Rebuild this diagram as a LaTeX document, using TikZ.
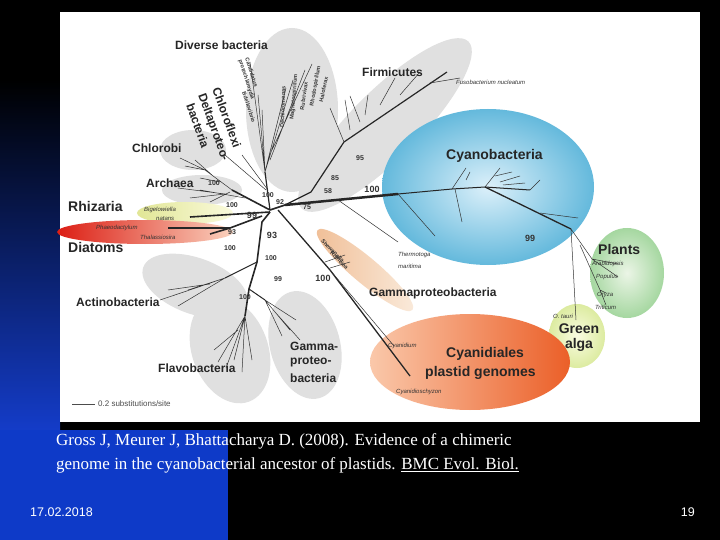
\documentclass[tikz,border=0pt]{standalone}
\usepackage{fontspec}
\setmainfont{Liberation Serif}
\newfontfamily\arial{Liberation Sans}
\definecolor{slideblue}{RGB}{14,58,200}
\definecolor{slideblueb}{RGB}{20,60,200}
\definecolor{rhizA}{RGB}{225,230,150}
\definecolor{rhizB}{RGB}{250,250,220}
\definecolor{diaA}{RGB}{220,30,20}
\definecolor{diaB}{RGB}{250,210,190}
\definecolor{cyA}{RGB}{220,240,250}
\definecolor{cyB}{RGB}{100,185,220}
\definecolor{plA}{RGB}{235,245,230}
\definecolor{plB}{RGB}{165,215,160}
\definecolor{gaA}{RGB}{250,252,225}
\definecolor{gaB}{RGB}{220,235,160}
\definecolor{cdA}{RGB}{250,200,170}
\definecolor{cdB}{RGB}{235,95,40}
\definecolor{gmA}{RGB}{240,190,150}
\definecolor{gmB}{RGB}{250,235,220}
\begin{document}
\begin{tikzpicture}[x=1pt,y=-1pt,
  lab/.style={font=\arial\bfseries\fontsize{12}{12}\selectfont,text=black!85,inner sep=0},
  big/.style={font=\arial\bfseries\fontsize{14}{14}\selectfont,text=black!85,inner sep=0},
  sp/.style={font=\arial\itshape\fontsize{6}{6}\selectfont,text=black!80,inner sep=0},
  bs/.style={font=\arial\bfseries\fontsize{5.5}{5.5}\selectfont,text=black!80,inner sep=0},
  num/.style={font=\arial\bfseries\fontsize{7}{7}\selectfont,text=black!80,inner sep=0},
  br/.style={draw=black!80,line width=0.5pt},
  tk/.style={draw=black!85,line width=1.6pt},
  grayel/.style={fill=black!12}]
\useasboundingbox (0,0) rectangle (720,540);
\fill[black] (0,0) rectangle (720,540);
\shade[top color=black,bottom color=slideblueb] (0,80) rectangle (60,430);
\fill[slideblue] (0,430) rectangle (228,540);
\fill[white] (60,12) rectangle (700,422);
% ellipses
\fill[grayel] (292,110) ellipse [x radius=46,y radius=82];
\fill[grayel,rotate around={45:(385,125)}] (385,125) ellipse [x radius=118,y radius=34];
\fill[grayel] (193,150) ellipse [x radius=33,y radius=20];
\fill[grayel] (202,190) ellipse [x radius=40,y radius=15];
\fill[grayel,rotate around={-20:(195,286)}] (195,286) ellipse [x radius=55,y radius=28];
\fill[grayel,rotate around={20:(230,350)}] (230,350) ellipse [x radius=38,y radius=55];
\fill[grayel,rotate around={15:(305,345)}] (305,345) ellipse [x radius=35,y radius=55];
\shade[left color=rhizA,right color=rhizB] (185,213) ellipse [x radius=48,y radius=11];
\shade[left color=diaA,right color=diaB] (145,232) ellipse [x radius=88,y radius=12];
\shade[inner color=cyA,outer color=cyB] (488,187) ellipse [x radius=106,y radius=78];
\shade[inner color=plA,outer color=plB] (627,273) ellipse [x radius=37,y radius=45];
\shade[inner color=gaA,outer color=gaB] (577,336) ellipse [x radius=28,y radius=32];
\shade[left color=cdA,right color=cdB] (470,362) ellipse [x radius=100,y radius=48];
\shade[left color=gmA,right color=gmB,rotate around={-40:(365,270)}] (365,270) ellipse [x radius=62,y radius=13];
% tree
\draw[tk] (270,210) -- (285,205);
\draw[draw=black!85,line width=2.5pt] (285,205) -- (398,194);
\draw[tk,line width=1pt] (398,194) -- (452,189) -- (485,187) -- (530,190);
\draw[br] (452,189) -- (466,168) (466,180) -- (470,172) (485,187) -- (500,168) (495,176) -- (512,172) (500,182) -- (520,176) (503,185) -- (525,183);
\draw[br] (398,194) -- (435,236) (455,189) -- (462,222) (530,190) -- (540,180);
\draw[tk,line width=1.3pt] (485,187) -- (571,229);
\draw[br] (540,213) -- (578,218);
\draw[br] (571,229) -- (576,320) (571,229) -- (592,259) -- (618,264) (592,259) -- (618,277) (580,245) -- (600,290) (600,290) -- (606,293) (600,290) -- (606,305);
\draw[br] (338,200) -- (398,242);
\draw[tk,line width=1.2pt] (285,205) -- (311,192) -- (344,142) -- (447,72);
\draw[br] (344,142) -- (330,108) (350,130) -- (345,100) (365,115) -- (368,95) (380,105) -- (395,78) (400,95) -- (420,72) (430,83) -- (460,78) (360,122) -- (350,96);
\draw[tk,line width=1.2pt] (270,210) -- (265,172);
\draw[br] (265,172) -- (250,62) (265,172) -- (258,95) (265,172) -- (262,110) (265,172) -- (286,88) (265,172) -- (293,80) (270,160) -- (305,70) (272,150) -- (312,64) (268,190) -- (242,155) (266,190) -- (225,155);
\draw[tk] (270,210) -- (232,190) ;
\draw[br] (232,190) -- (205,170) -- (180,158) (205,170) -- (185,166) (212,175) -- (195,160) (220,182) -- (200,178);
\draw[br] (245,198) -- (200,190) (225,194) -- (178,188) (225,194) -- (190,198) (230,192) -- (210,202);
\draw[tk] (270,212) -- (190,217);
\draw[tk] (262,216) -- (230,228) -- (168,228) (230,228) -- (210,234);
\draw[tk] (270,212) -- (262,222) -- (257,262) -- (249,289) -- (245,316);
\draw[br] (245,316) -- (218,362) (245,316) -- (226,368) (245,316) -- (234,360) (245,316) -- (242,372) (245,316) -- (252,360) (238,330) -- (214,350);
\draw[tk,line width=1pt] (257,262) -- (225,278);
\draw[br] (225,278) -- (160,300) (225,278) -- (172,296) (225,278) -- (178,306) (225,278) -- (188,290) (210,284) -- (168,290);
\draw[tk,line width=1pt] (249,289) -- (265,300);
\draw[br] (265,300) -- (290,330) (265,300) -- (296,320) (265,300) -- (282,336) (275,312) -- (300,340);
\draw[tk,line width=1.3pt] (278,210) -- (330,270) -- (410,376);
\draw[br] (330,270) -- (394,346) (325,262) -- (345,255) (330,268) -- (350,262);
\draw[line width=1pt,black!70] (72,404) -- (95,404);
% labels
\node[lab,anchor=west] at (175,45) {Diverse bacteria};
\node[lab,anchor=west] at (362,72) {Firmicutes};
\node[sp,anchor=west] at (456,82) {Fusobacterium nucleatum};
\node[big,anchor=west] at (446,156) {Cyanobacteria};
\node[lab,anchor=west] at (132,148) {Chlorobi};
\node[lab,anchor=west] at (146,183) {Archaea};
\node[big,anchor=west] at (68,206) {Rhizaria};
\node[sp,anchor=west] at (144,210) {Bigelowiella};
\node[sp,anchor=west] at (156,219) {natans};
\node[sp,anchor=west] at (96,228) {Phaeodactylum};
\node[sp,anchor=west] at (140,237) {Thalassiosira};
\node[big,anchor=west] at (68,247) {Diatoms};
\node[big,anchor=west] at (598,249) {Plants};
\node[sp,anchor=west] at (592,264) {Arabidopsis};
\node[sp,anchor=west] at (596,277) {Populus};
\node[sp,anchor=west] at (597,295) {Oryza};
\node[sp,anchor=west] at (595,307) {Triticum};
\node[sp] at (563,316) {O. tauri};
\node[big] at (579,329) {Green};
\node[big] at (579,345) {alga};
\node[sp,anchor=west] at (398,255) {Thermotoga};
\node[sp,anchor=west] at (398,266) {maritima};
\node[bs,rotate=-45,anchor=west] at (322,240) {Shewanella};
\node[bs,rotate=-45,anchor=west] at (331,252) {Rolneiea};
\node[lab,anchor=west] at (369,293) {Gammaproteobacteria};
\node[lab,anchor=west] at (76,302) {Actinobacteria};
\node[sp,anchor=west] at (388,346) {Cyanidium};
\node[big,anchor=west] at (446,354) {Cyanidiales};
\node[big,anchor=west] at (425,373) {plastid genomes};
\node[sp,anchor=west] at (396,392) {Cyanidioschyzon};
\node[lab,anchor=west] at (158,368) {Flavobacteria};
\node[lab,anchor=west] at (290,346) {Gamma-};
\node[lab,anchor=west] at (290,362) {proteo-};
\node[lab,anchor=west] at (290,378) {bacteria};
\node[font=\arial\fontsize{8}{8}\selectfont,text=black!70,anchor=west,inner sep=0] at (98,404) {0.2 substitutions/site};
\node[bs,rotate=-72,anchor=west] at (247,58) {Candidatus};
\node[bs,rotate=-72,anchor=west] at (240,60) {protochlamydia};
\node[bs,rotate=-72,anchor=west] at (244,92) {Bdellovibrio};
\node[lab,rotate=-70,anchor=west] at (216,88) {Chloroflexi};
\node[lab,rotate=-70,anchor=west] at (201,94) {Deltaproteo-};
\node[lab,rotate=-70,anchor=west] at (190,104) {bacteria};
\node[bs,rotate=88,anchor=west] at (282,128) {Dechloromonas};
\node[bs,rotate=85,anchor=west] at (292,120) {Magnetospirillum};
\node[bs,rotate=82,anchor=west] at (302,110) {Rubrivivax};
\node[bs,rotate=80,anchor=west] at (312,106) {Rhodospirillum};
\node[bs,rotate=78,anchor=west] at (321,102) {Haloferax};
% numbers
\foreach \t/\x/\y in {95/360/158,85/335/178,58/328/191,100/214/183,100/232/205,92/280/202,75/307/207,100/268/195}
  \node[num] at (\x,\y) {\t};
\node[num,font=\arial\bfseries\fontsize{9}{9}\selectfont] at (372,189) {100};
\node[num,font=\arial\bfseries\fontsize{9}{9}\selectfont] at (252,215) {99};
\node[num] at (232,232) {93};
\node[num,font=\arial\bfseries\fontsize{9}{9}\selectfont] at (272,235) {93};
\node[num] at (230,248) {100};
\node[num] at (271,258) {100};
\node[num] at (278,279) {99};
\node[num,font=\arial\bfseries\fontsize{9}{9}\selectfont] at (323,278) {100};
\node[num] at (245,297) {100};
\node[num,font=\arial\bfseries\fontsize{9}{9}\selectfont] at (530,238) {99};
% caption
\node[anchor=west,text=white,font=\fontsize{17}{17}\selectfont,inner sep=0] (c1) at (56,441) {Gross J, Meurer J, Bhattacharya D. (2008). Evidence of a chimeric};
\node[anchor=west,text=white,font=\fontsize{17}{17}\selectfont,inner sep=0] (c2) at (56,465) {genome in the cyanobacterial ancestor of plastids. \underline{BMC Evol. Biol.}};
\node[anchor=west,text=white,font=\arial\fontsize{12.5}{12.5}\selectfont,inner sep=0] (d) at (30,512) {17.02.2018};
\node[anchor=east,text=white,font=\arial\fontsize{12.5}{12.5}\selectfont,inner sep=0] (p) at (695,512) {19};
\end{tikzpicture}
\end{document}
